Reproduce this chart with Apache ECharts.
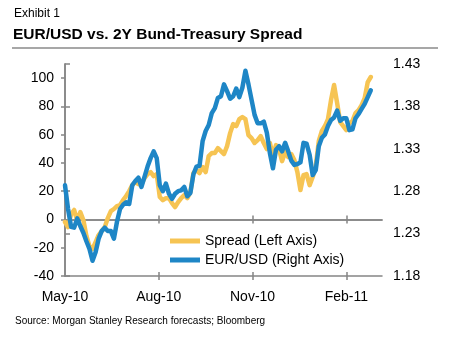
<!DOCTYPE html>
<html>
<head>
<meta charset="utf-8">
<script src="https://cdn.jsdelivr.net/npm/echarts@6/dist/echarts.min.js"></script>
<style>
  html, body { margin: 0; padding: 0; background: #fff; }
  #chart { width: 459px; height: 345px; }
</style>
</head>
<body>
<div id="chart"></div>
<script>
// Observation dates (every third day)
const dates = [
  '2010-05-01','2010-05-04','2010-05-07','2010-05-10','2010-05-13','2010-05-16','2010-05-19','2010-05-22','2010-05-25','2010-05-28',
  '2010-05-31','2010-06-03','2010-06-06','2010-06-09','2010-06-12','2010-06-15','2010-06-18','2010-06-21','2010-06-24','2010-06-27',
  '2010-06-30','2010-07-03','2010-07-06','2010-07-09','2010-07-12','2010-07-15','2010-07-18','2010-07-21','2010-07-24','2010-07-27',
  '2010-07-30','2010-08-02','2010-08-05','2010-08-08','2010-08-11','2010-08-14','2010-08-17','2010-08-20','2010-08-23','2010-08-26',
  '2010-08-29','2010-09-01','2010-09-04','2010-09-07','2010-09-10','2010-09-13','2010-09-16','2010-09-19','2010-09-22','2010-09-25',
  '2010-09-28','2010-10-01','2010-10-04','2010-10-07','2010-10-10','2010-10-13','2010-10-16','2010-10-19','2010-10-22','2010-10-25',
  '2010-10-28','2010-10-31','2010-11-03','2010-11-06','2010-11-09','2010-11-12','2010-11-15','2010-11-18','2010-11-21','2010-11-24',
  '2010-11-27','2010-11-30','2010-12-03','2010-12-06','2010-12-09','2010-12-12','2010-12-15','2010-12-18','2010-12-21','2010-12-24',
  '2010-12-27','2010-12-30','2011-01-02','2011-01-05','2011-01-08','2011-01-11','2011-01-14','2011-01-17','2011-01-20','2011-01-23',
  '2011-01-26','2011-01-29','2011-02-01','2011-02-04','2011-02-07','2011-02-10','2011-02-13','2011-02-16','2011-02-19','2011-02-22',
  '2011-02-25'
];

// 2Y Bund-Treasury spread, bp (left axis)
const spread = [
  -1.8, -5.4, 3.8, 6.7, -1.1, 5.2, -0.4, -11.7, -18.8, -20.9,
  -16.0, -11.0, -8.2, -5.4, 1.0, 5.9, 7.4, 9.5, 10.2, 13.7,
  16.6, 20.1, 24.3, 26.5, 25.0, 25.0, 29.3, 32.1, 33.5, 30.7,
  32.1, 15.9, 13.7, 15.1, 15.1, 11.6, 8.8, 12.3, 15.1, 17.3,
  15.1, 19.4, 32.8, 35.0, 32.8, 37.1, 33.5, 44.9, 47.0, 47.0,
  50.5, 48.4, 46.3, 51.9, 61.1, 67.5, 66.1, 71.0, 72.5, 71.0,
  59.7, 57.6, 54.1, 56.2, 59.0, 54.1, 49.8, 54.1, 44.9, 52.6,
  49.8, 41.3, 47.7, 44.2, 46.3, 42.0, 33.5, 20.8, 31.4, 32.1,
  24.3, 30.0, 37.8, 55.5, 62.6, 66.1, 71.0, 84.5, 95.1, 82.4,
  68.9, 66.1, 63.3, 68.2, 69.6, 75.3, 77.4, 80.9, 85.9, 97.2,
  100.8
];

// EUR/USD (right axis)
const eurusd = [
  1.287, 1.259, 1.238, 1.237, 1.248, 1.239, 1.231, 1.221, 1.212, 1.198,
  1.208, 1.224, 1.233, 1.237, 1.233, 1.233, 1.224, 1.244, 1.259, 1.264,
  1.267, 1.265, 1.287, 1.292, 1.296, 1.285, 1.297, 1.309, 1.319, 1.327,
  1.319, 1.287, 1.280, 1.289, 1.277, 1.271, 1.277, 1.280, 1.281, 1.285,
  1.274, 1.278, 1.300, 1.309, 1.310, 1.339, 1.351, 1.358, 1.372, 1.378,
  1.390, 1.392, 1.406, 1.398, 1.389, 1.392, 1.401, 1.391, 1.402, 1.422,
  1.406, 1.388, 1.370, 1.360, 1.360, 1.362, 1.349, 1.325, 1.307, 1.329,
  1.333, 1.327, 1.337, 1.327, 1.316, 1.311, 1.312, 1.314, 1.337, 1.336,
  1.323, 1.299, 1.305, 1.333, 1.343, 1.347, 1.357, 1.364, 1.367, 1.375,
  1.363, 1.366, 1.366, 1.352, 1.353, 1.366, 1.371, 1.377, 1.383, 1.391,
  1.399
];

// Axis ticks
const monthTickDates = ['2010-05-01', '2010-08-01', '2010-11-01', '2011-02-01'];
const monthTickLabels = ['May-10', 'Aug-10', 'Nov-10', 'Feb-11'];
const spreadTicks = [-40, -20, 0, 20, 40, 60, 80, 100];
const fxTicks = [1.18, 1.23, 1.28, 1.33, 1.38, 1.43];

const seriesNames = ['Spread (Left Axis)', 'EUR/USD (Right Axis)'];

// Days elapsed since the start of the window
const ORIGIN = Date.UTC(2010, 4, 1);
function dayOf(s) {
  const p = s.split('-').map(Number);
  return Math.round((Date.UTC(p[0], p[1] - 1, p[2]) - ORIGIN) / 86400000);
}
const tickDays = monthTickDates.map(dayOf);
const innerTickDays = tickDays.slice(1);
const X_MAX = dayOf('2011-03-08');

const FONT = '"Liberation Sans", Arial, Helvetica, sans-serif';
const AXIS_COLOR = '#858585';
const axisLineStyle = { color: AXIS_COLOR, width: 1.5 };

function monthLabel(v) {
  const i = tickDays.indexOf(Math.round(v));
  return i >= 0 ? monthTickLabels[i] : '';
}

function xAxisDef(opts) {
  return Object.assign({
    type: 'value', min: 0, max: X_MAX, position: 'bottom',
    splitLine: { show: false },
    axisLabel: { show: false },
  }, opts);
}

const chart = echarts.init(document.getElementById('chart'), null, { renderer: 'canvas' });
chart.setOption({
  animation: false,
  backgroundColor: '#fff',
  textStyle: { fontFamily: FONT },
  grid: { left: 65, right: 77, top: 64, bottom: 69, containLabel: false },
  xAxis: [
    // bottom frame with month labels (ticks pointing down)
    xAxisDef({
      axisLine: { show: true, onZero: false, lineStyle: axisLineStyle },
      axisTick: { show: true, customValues: innerTickDays, length: 4, lineStyle: axisLineStyle },
      axisLabel: {
        show: true, customValues: tickDays, formatter: monthLabel,
        color: '#000', fontSize: 14, fontFamily: FONT, margin: 14
      }
    }),
    // bottom frame, ticks pointing up
    xAxisDef({
      axisLine: { show: false, onZero: false },
      axisTick: { show: true, inside: true, customValues: innerTickDays, length: 4, lineStyle: axisLineStyle }
    }),
    // zero line, ticks pointing down
    xAxisDef({
      axisLine: { show: true, onZero: true, onZeroAxisIndex: 0, lineStyle: axisLineStyle },
      axisTick: { show: true, customValues: innerTickDays, length: 4, lineStyle: axisLineStyle }
    }),
    // zero line, ticks pointing up
    xAxisDef({
      axisLine: { show: true, onZero: true, onZeroAxisIndex: 0, lineStyle: axisLineStyle },
      axisTick: { show: true, inside: true, customValues: innerTickDays, length: 4, lineStyle: axisLineStyle }
    })
  ],
  yAxis: [
    {
      type: 'value', position: 'left', min: -40, max: 110,
      splitLine: { show: false },
      axisLine: { show: true, lineStyle: axisLineStyle },
      axisTick: { show: true, customValues: spreadTicks, length: 4, lineStyle: axisLineStyle },
      axisLabel: { customValues: spreadTicks, color: '#000', fontSize: 14, fontFamily: FONT, margin: 11 }
    },
    {
      type: 'value', position: 'right', min: 1.18, max: 1.43,
      splitLine: { show: false },
      axisLine: { show: true, lineStyle: axisLineStyle },
      axisTick: { show: true, customValues: fxTicks, length: 5, lineStyle: axisLineStyle },
      axisLabel: {
        customValues: fxTicks, formatter: v => v.toFixed(2),
        color: '#000', fontSize: 14, fontFamily: FONT, margin: 11
      }
    }
  ],
  legend: {
    data: seriesNames,
    orient: 'vertical',
    left: 165, top: 229,
    itemWidth: 30, itemHeight: 5, itemGap: 5,
    icon: 'rect',
    textStyle: { color: '#000', fontSize: 14, fontFamily: FONT }
  },
  series: [
    {
      name: seriesNames[0], type: 'line', xAxisIndex: 0, yAxisIndex: 0,
      showSymbol: false, symbol: 'none', color: '#F6C453',
      lineStyle: { width: 4.5, color: '#F6C453', cap: 'round', join: 'round' },
      data: dates.map((d, i) => [dayOf(d), spread[i]])
    },
    {
      name: seriesNames[1], type: 'line', xAxisIndex: 0, yAxisIndex: 1,
      showSymbol: false, symbol: 'none', color: '#1E86C6',
      lineStyle: { width: 4.5, color: '#1E86C6', cap: 'round', join: 'round' },
      data: dates.map((d, i) => [dayOf(d), eurusd[i]])
    }
  ],
  graphic: [
    { type: 'text', left: 14, top: 8,
      style: { text: 'Exhibit 1', fill: '#000', font: '12px ' + FONT } },
    { type: 'text', left: 13, top: 27,
      style: { text: 'EUR/USD vs. 2Y Bund-Treasury Spread', fill: '#000', font: 'bold 15.5px ' + FONT } },
    { type: 'line', shape: { x1: 12, y1: 48, x2: 438, y2: 48 },
      style: { stroke: '#8a8a8a', lineWidth: 1.5 } },
    { type: 'text', left: 15, top: 316,
      style: { text: 'Source: Morgan Stanley Research forecasts; Bloomberg', fill: '#000', font: '10px ' + FONT } }
  ]
});
</script>
</body>
</html>
